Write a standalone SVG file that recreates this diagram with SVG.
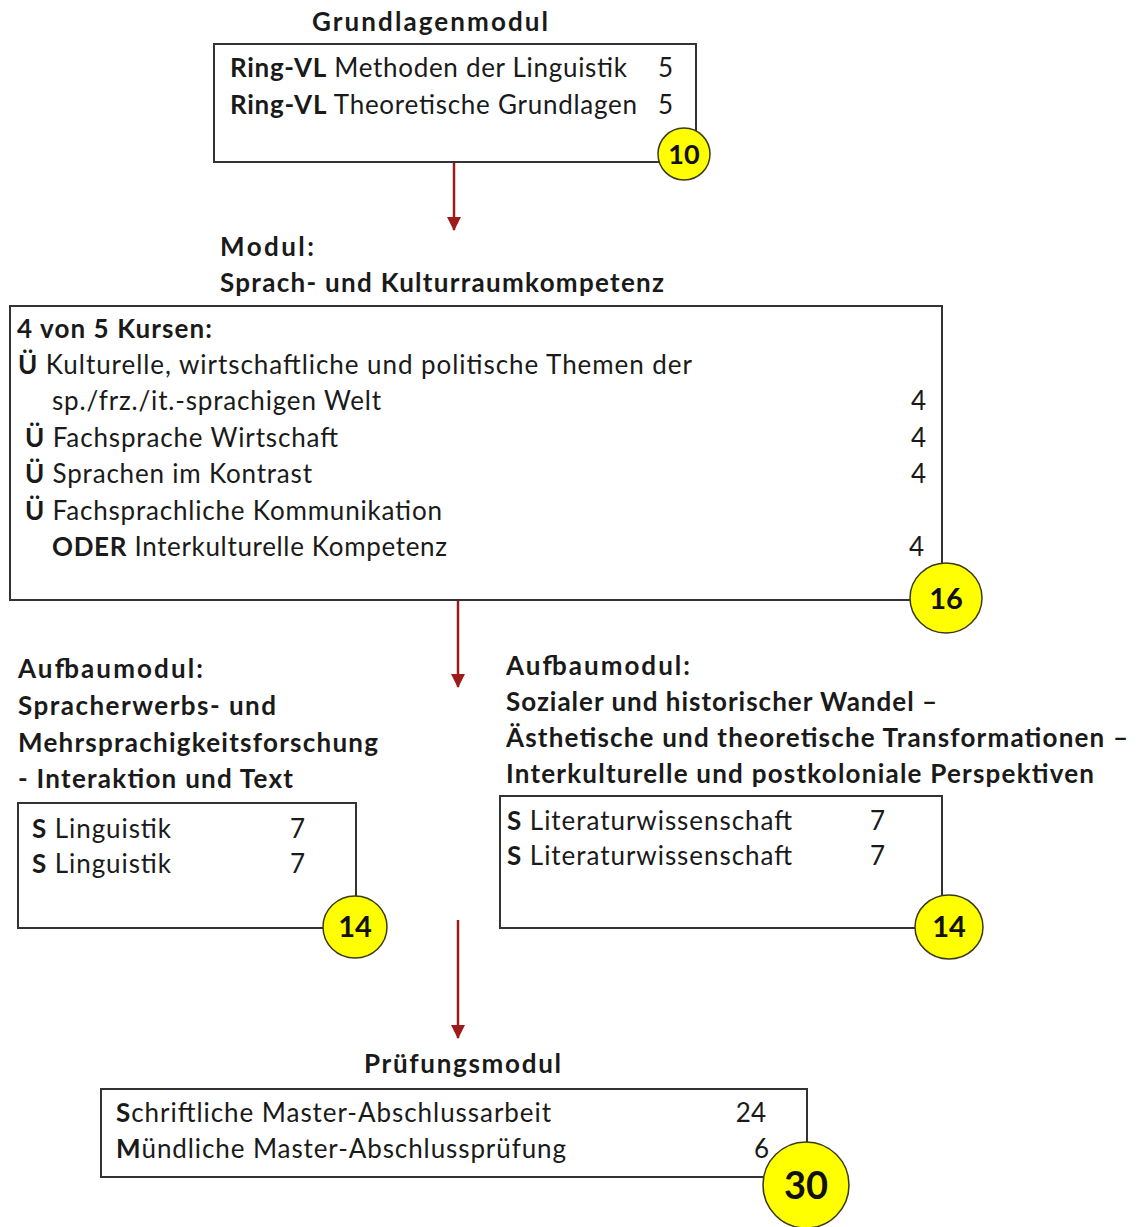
<svg xmlns="http://www.w3.org/2000/svg" width="1140" height="1227" viewBox="0 0 1140 1227">
<style>
  text { font-family: Lato, "Liberation Sans", sans-serif; fill: #1a1a1a; }
  .t { font-size: 26px; }
  .h { font-size: 26px; font-weight: bold; }
  .b { font-weight: bold; }
  .num { font-size: 26px; text-anchor: end; }
  .box { fill: #ffffff; stroke: #333333; stroke-width: 2; }
  .badge { fill: #ffff00; stroke: #3a3a1a; stroke-width: 1.5; }
  .badge-t { font-weight: bold; text-anchor: middle; fill: #111111; }
  .arrow { stroke: #9c1c1c; stroke-width: 2.5; fill: none; marker-end: url(#ah); }
</style>
<defs>
  <marker id="ah" markerUnits="userSpaceOnUse" markerWidth="14" markerHeight="14" viewBox="0 0 14 14" refX="13" refY="7" orient="auto">
    <path d="M0,0 L14,7 L0,14 z" fill="#9c1c1c"/>
  </marker>
</defs>
<rect width="1140" height="1227" fill="#ffffff"/>

<g id="connectors">
  <line class="arrow" x1="454" y1="162" x2="454" y2="230"/>
  <line class="arrow" x1="458" y1="601" x2="458" y2="687"/>
  <line class="arrow" x1="458" y1="920" x2="458" y2="1038"/>
</g>

<g id="grundlagenmodul">
  <text class="h" x="312" y="31" textLength="236">Grundlagenmodul</text>
  <rect class="box" x="214" y="44" width="482" height="118"/>
  <text class="t" x="230" y="77" textLength="397"><tspan class="b">Ring-VL</tspan> Methoden der Linguistik</text>
  <text class="num" x="673" y="77">5</text>
  <text class="t" x="230" y="114" textLength="407"><tspan class="b">Ring-VL</tspan> Theoretische Grundlagen</text>
  <text class="num" x="673" y="114">5</text>
  <ellipse class="badge" cx="684" cy="154" rx="26" ry="26"/>
  <text class="badge-t" x="684" y="164" font-size="27">10</text>
</g>

<g id="sprachmodul">
  <text class="h" x="220" y="256" textLength="94">Modul:</text>
  <text class="h" x="220" y="292" textLength="444">Sprach- und Kulturraumkompetenz</text>
  <rect class="box" x="10" y="306" width="932" height="294"/>
  <text class="h" x="17" y="338" textLength="195">4 von 5 Kursen:</text>
  <text class="t" x="18" y="374" textLength="674"><tspan class="b">Ü</tspan> Kulturelle, wirtschaftliche und politische Themen der</text>
  <text class="t" x="52" y="410" textLength="329">sp./frz./it.-sprachigen Welt</text>
  <text class="num" x="926" y="410">4</text>
  <text class="t" x="25" y="447" textLength="313"><tspan class="b">Ü</tspan> Fachsprache Wirtschaft</text>
  <text class="num" x="926" y="447">4</text>
  <text class="t" x="25" y="483" textLength="287"><tspan class="b">Ü</tspan> Sprachen im Kontrast</text>
  <text class="num" x="926" y="483">4</text>
  <text class="t" x="25" y="520" textLength="417"><tspan class="b">Ü</tspan> Fachsprachliche Kommunikation</text>
  <text class="t" x="52" y="556" textLength="395"><tspan class="b">ODER</tspan> Interkulturelle Kompetenz</text>
  <text class="num" x="924" y="556">4</text>
  <ellipse class="badge" cx="946" cy="598" rx="36" ry="35"/>
  <text class="badge-t" x="946" y="609" font-size="29">16</text>
</g>

<g id="aufbau-linguistik">
  <text class="h" x="18" y="678" textLength="185">Aufbaumodul:</text>
  <text class="h" x="18" y="715" textLength="258">Spracherwerbs- und</text>
  <text class="h" x="18" y="752" textLength="360">Mehrsprachigkeitsforschung</text>
  <text class="h" x="18" y="788" textLength="275">- Interaktion und Text</text>
  <rect class="box" x="18" y="803" width="338" height="125"/>
  <text class="t" x="32" y="838" textLength="139"><tspan class="b">S</tspan> Linguistik</text>
  <text class="num" x="305" y="838">7</text>
  <text class="t" x="32" y="873" textLength="139"><tspan class="b">S</tspan> Linguistik</text>
  <text class="num" x="305" y="873">7</text>
  <ellipse class="badge" cx="355" cy="927" rx="32" ry="31"/>
  <text class="badge-t" x="355" y="937" font-size="29">14</text>
</g>

<g id="aufbau-literatur">
  <text class="h" x="506" y="675" textLength="184">Aufbaumodul:</text>
  <text class="h" x="506" y="711" textLength="431">Sozialer und historischer Wandel –</text>
  <text class="h" x="506" y="747" textLength="622">Ästhetische und theoretische Transformationen –</text>
  <text class="h" x="506" y="783" textLength="588">Interkulturelle und postkoloniale Perspektiven</text>
  <rect class="box" x="500" y="796" width="442" height="132"/>
  <text class="t" x="507" y="830" textLength="285"><tspan class="b">S</tspan> Literaturwissenschaft</text>
  <text class="num" x="885" y="830">7</text>
  <text class="t" x="507" y="865" textLength="285"><tspan class="b">S</tspan> Literaturwissenschaft</text>
  <text class="num" x="885" y="865">7</text>
  <ellipse class="badge" cx="949" cy="927" rx="34" ry="32"/>
  <text class="badge-t" x="949" y="937" font-size="29">14</text>
</g>

<g id="pruefungsmodul">
  <text class="h" x="364" y="1073" textLength="197">Prüfungsmodul</text>
  <rect class="box" x="101" y="1089" width="706" height="88"/>
  <text class="t" x="116" y="1122" textLength="435"><tspan class="b">S</tspan>chriftliche Master-Abschlussarbeit</text>
  <text class="num" x="766" y="1122">24</text>
  <text class="t" x="116" y="1158" textLength="450"><tspan class="b">M</tspan>ündliche Master-Abschlussprüfung</text>
  <text class="num" x="769" y="1158">6</text>
  <ellipse class="badge" cx="806" cy="1185" rx="43" ry="43"/>
  <text class="badge-t" x="806" y="1199" font-size="38">30</text>
</g>
</svg>
